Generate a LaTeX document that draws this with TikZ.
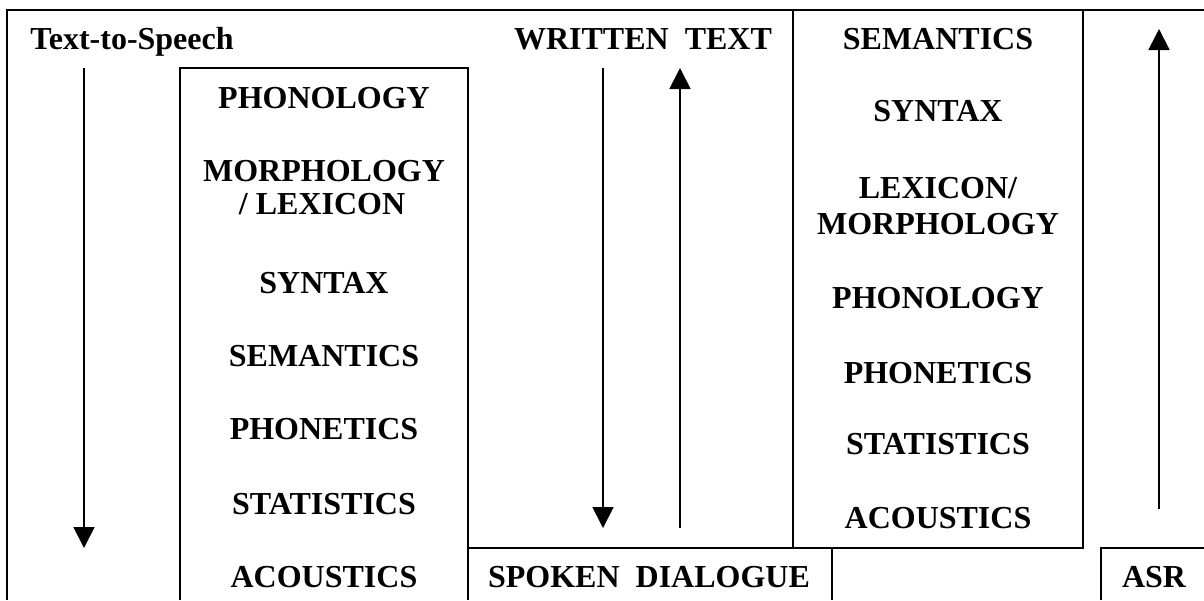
\documentclass[tikz,border=0pt]{standalone}
\usepackage{fontspec}
\setmainfont{Liberation Serif}
\usetikzlibrary{arrows.meta}
\begin{document}
\begin{tikzpicture}[x=0.5pt,y=-0.5pt,
  frame/.style={draw=black,line width=1pt},
  flow/.style={draw=black,line width=0.9pt,-{Triangle[width=10.5pt,length=10.5pt]}},
  lbl/.style={anchor=base,inner sep=0pt,font=\bfseries\fontsize{16}{17}\selectfont},
  lblw/.style={lbl,anchor=base west}]
\useasboundingbox (0,0) rectangle (1204,600);
% outer frame (cropped at right and bottom)
\draw[frame] (7,600) -- (7,10) -- (1204,10);
% left box (text-to-speech levels)
\draw[frame] (180,600) -- (180,68) -- (468,68) -- (468,600);
% spoken dialogue box
\draw[frame] (468,548) -- (832,548) -- (832,600);
% right box (ASR levels)
\draw[frame] (793,10) -- (793,548) -- (1083,548) -- (1083,10);
% ASR box
\draw[frame] (1101,600) -- (1101,548) -- (1204,548);

% labels
\node[lblw] (tts) at (30,49) {Text-to-Speech};
\node[lbl] (wt) at (643,49) {WRITTEN\hspace{8pt}TEXT};
\node[lbl] (sd) at (649,587) {SPOKEN\hspace{8pt}DIALOGUE};
\node[lbl] (asr) at (1154,587) {ASR};

% left column
\node[lbl] (l1) at (324,108) {PHONOLOGY};
\node[lbl] (l2a) at (324,181) {MORPHOLOGY};
\node[lbl] (l2b) at (322,214) {/ LEXICON};
\node[lbl] (l3) at (324,293) {SYNTAX};
\node[lbl] (l4) at (324,366) {SEMANTICS};
\node[lbl] (l5) at (324,439) {PHONETICS};
\node[lbl] (l6) at (324,514) {STATISTICS};
\node[lbl] (l7) at (324,587) {ACOUSTICS};

% right column
\node[lbl] (r1) at (938,49) {SEMANTICS};
\node[lbl] (r2) at (938,121) {SYNTAX};
\node[lbl] (r3a) at (938,198) {LEXICON/};
\node[lbl] (r3b) at (938,234) {MORPHOLOGY};
\node[lbl] (r4) at (938,308) {PHONOLOGY};
\node[lbl] (r5) at (938,383) {PHONETICS};
\node[lbl] (r6) at (938,454) {STATISTICS};
\node[lbl] (r7) at (938,528) {ACOUSTICS};

% arrows
\coordinate (ttsA) at (84,68);   \coordinate (ttsB) at (84,548);
\coordinate (wdA) at (603,68);   \coordinate (wdB) at (603,528);
\coordinate (wuA) at (680,528);  \coordinate (wuB) at (680,68);
\coordinate (asA) at (1159,509); \coordinate (asB) at (1159,29);
\draw[flow] (ttsA) -- (ttsB);
\draw[flow] (wdA) -- (wdB);
\draw[flow] (wuA) -- (wuB);
\draw[flow] (asA) -- (asB);
\end{tikzpicture}
\end{document}
